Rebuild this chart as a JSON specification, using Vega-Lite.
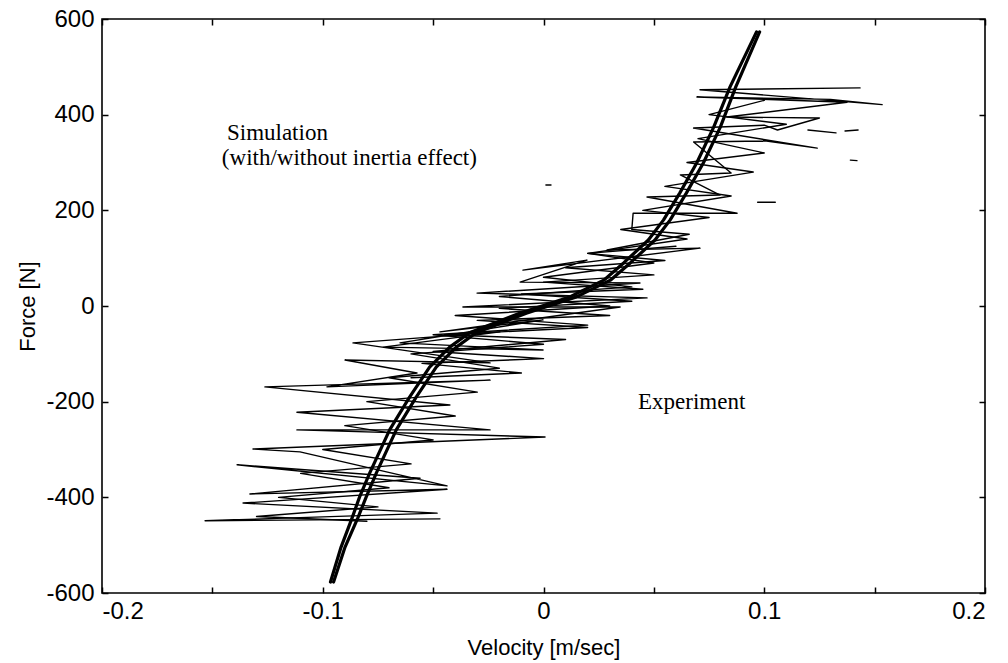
{
  "$schema": "https://vega.github.io/schema/vega-lite/v6.json",
  "width": 883,
  "height": 574,
  "autosize": "none",
  "padding": {"left": 102, "top": 19, "right": 23, "bottom": 70},
  "background": "white",
  "config": {
    "view": {"stroke": "black", "strokeWidth": 1.6},
    "axis": {"grid": false, "domain": false, "tickColor": "black", "tickWidth": 1.5, "tickSize": 6, "offset": -6,
             "labelFont": "Liberation Sans", "labelFontSize": 24, "labelColor": "black",
             "titleFont": "Liberation Sans", "titleFontSize": 22, "titleFontWeight": "normal", "titleColor": "black"}
  },
  "datasets": {
    "exp": [
      {"seg": "a", "i": 1, "v": -0.0469, "F": -445},
      {"seg": "a", "i": 2, "v": -0.1533, "F": -449},
      {"seg": "a", "i": 3, "v": -0.0482, "F": -433},
      {"seg": "a", "i": 4, "v": -0.1361, "F": -412},
      {"seg": "a", "i": 5, "v": -0.0437, "F": -383},
      {"seg": "a", "i": 6, "v": -0.1330, "F": -393},
      {"seg": "a", "i": 7, "v": -0.0559, "F": -360},
      {"seg": "a", "i": 8, "v": -0.1388, "F": -332},
      {"seg": "a", "i": 9, "v": -0.0437, "F": -376},
      {"seg": "a", "i": 10, "v": -0.1103, "F": -305},
      {"seg": "a", "i": 11, "v": -0.1316, "F": -299},
      {"seg": "a", "i": 12, "v": 0.0007, "F": -274},
      {"seg": "a", "i": 13, "v": -0.1117, "F": -259},
      {"seg": "a", "i": 14, "v": -0.0242, "F": -259},
      {"seg": "a", "i": 15, "v": -0.1117, "F": -222},
      {"seg": "a", "i": 16, "v": -0.0424, "F": -207},
      {"seg": "a", "i": 17, "v": -0.1262, "F": -169},
      {"seg": "a", "i": 18, "v": -0.0242, "F": -155},
      {"seg": "a", "i": 19, "v": -0.0981, "F": -169},
      {"seg": "a", "i": 20, "v": -0.0573, "F": -140},
      {"seg": "a", "i": 21, "v": -0.0899, "F": -113},
      {"seg": "a", "i": 22, "v": -0.0242, "F": -119},
      {"seg": "a", "i": 23, "v": -0.0863, "F": -77},
      {"seg": "a", "i": 24, "v": -0.0197, "F": -54},
      {"seg": "a", "i": 25, "v": -0.0727, "F": -86},
      {"seg": "a", "i": 26, "v": -0.0002, "F": -92},
      {"seg": "a", "i": 27, "v": -0.0650, "F": -77},
      {"seg": "a", "i": 28, "v": -0.0002, "F": -29},
      {"seg": "a", "i": 29, "v": -0.0469, "F": -54},
      {"seg": "a", "i": 30, "v": 0.0347, "F": -2},
      {"seg": "a", "i": 31, "v": -0.0365, "F": -2},
      {"seg": "a", "i": 32, "v": 0.0469, "F": 17},
      {"seg": "a", "i": 33, "v": -0.0301, "F": 27},
      {"seg": "a", "i": 34, "v": 0.0437, "F": 48},
      {"seg": "a", "i": 35, "v": -0.0106, "F": 50},
      {"seg": "a", "i": 36, "v": 0.0197, "F": 96},
      {"seg": "a", "i": 37, "v": -0.0093, "F": 75},
      {"seg": "a", "i": 38, "v": 0.0709, "F": 121},
      {"seg": "a", "i": 39, "v": 0.0288, "F": 117},
      {"seg": "a", "i": 40, "v": 0.0660, "F": 150},
      {"seg": "a", "i": 41, "v": 0.0400, "F": 160},
      {"seg": "a", "i": 42, "v": 0.0406, "F": 194},
      {"seg": "a", "i": 43, "v": 0.0877, "F": 194},
      {"seg": "a", "i": 44, "v": 0.0469, "F": 228},
      {"seg": "a", "i": 45, "v": 0.0800, "F": 232},
      {"seg": "a", "i": 46, "v": 0.0620, "F": 274},
      {"seg": "a", "i": 47, "v": 0.0850, "F": 278},
      {"seg": "a", "i": 48, "v": 0.0680, "F": 343},
      {"seg": "a", "i": 49, "v": 0.1010, "F": 345},
      {"seg": "a", "i": 50, "v": 0.1240, "F": 330},
      {"seg": "a", "i": 51, "v": 0.0680, "F": 372},
      {"seg": "a", "i": 52, "v": 0.1000, "F": 378},
      {"seg": "a", "i": 53, "v": 0.1060, "F": 368},
      {"seg": "a", "i": 54, "v": 0.1250, "F": 393},
      {"seg": "a", "i": 55, "v": 0.0830, "F": 395},
      {"seg": "a", "i": 56, "v": 0.1375, "F": 426},
      {"seg": "a", "i": 57, "v": 0.0695, "F": 437},
      {"seg": "a", "i": 58, "v": 0.1300, "F": 432},
      {"seg": "a", "i": 59, "v": 0.1534, "F": 421},
      {"seg": "a", "i": 60, "v": 0.0709, "F": 452},
      {"seg": "a", "i": 61, "v": 0.1434, "F": 456},
      {"seg": "b", "i": 1, "v": 0.100, "F": 430},
      {"seg": "b", "i": 2, "v": 0.075, "F": 400},
      {"seg": "b", "i": 3, "v": 0.110, "F": 380},
      {"seg": "b", "i": 4, "v": 0.070, "F": 350},
      {"seg": "b", "i": 5, "v": 0.100, "F": 320},
      {"seg": "b", "i": 6, "v": 0.065, "F": 300},
      {"seg": "b", "i": 7, "v": 0.095, "F": 280},
      {"seg": "b", "i": 8, "v": 0.055, "F": 250},
      {"seg": "b", "i": 9, "v": 0.085, "F": 230},
      {"seg": "b", "i": 10, "v": 0.045, "F": 200},
      {"seg": "b", "i": 11, "v": 0.075, "F": 185},
      {"seg": "b", "i": 12, "v": 0.035, "F": 160},
      {"seg": "b", "i": 13, "v": 0.065, "F": 140},
      {"seg": "b", "i": 14, "v": 0.020, "F": 110},
      {"seg": "b", "i": 15, "v": 0.050, "F": 90},
      {"seg": "b", "i": 16, "v": 0.000, "F": 60},
      {"seg": "b", "i": 17, "v": 0.040, "F": 40},
      {"seg": "b", "i": 18, "v": -0.020, "F": 20},
      {"seg": "b", "i": 19, "v": 0.030, "F": 0},
      {"seg": "b", "i": 20, "v": -0.040, "F": -20},
      {"seg": "b", "i": 21, "v": 0.020, "F": -40},
      {"seg": "b", "i": 22, "v": -0.050, "F": -60},
      {"seg": "b", "i": 23, "v": 0.000, "F": -80},
      {"seg": "b", "i": 24, "v": -0.060, "F": -100},
      {"seg": "b", "i": 25, "v": -0.020, "F": -130},
      {"seg": "b", "i": 26, "v": -0.070, "F": -150},
      {"seg": "b", "i": 27, "v": -0.030, "F": -180},
      {"seg": "b", "i": 28, "v": -0.080, "F": -200},
      {"seg": "b", "i": 29, "v": -0.040, "F": -230},
      {"seg": "b", "i": 30, "v": -0.090, "F": -250},
      {"seg": "b", "i": 31, "v": -0.050, "F": -280},
      {"seg": "b", "i": 32, "v": -0.100, "F": -300},
      {"seg": "b", "i": 33, "v": -0.060, "F": -330},
      {"seg": "b", "i": 34, "v": -0.110, "F": -350},
      {"seg": "b", "i": 35, "v": -0.070, "F": -380},
      {"seg": "b", "i": 36, "v": -0.120, "F": -400},
      {"seg": "b", "i": 37, "v": -0.075, "F": -420},
      {"seg": "b", "i": 38, "v": -0.130, "F": -440},
      {"seg": "b", "i": 39, "v": -0.080, "F": -450},
      {"seg": "h", "i": 1, "v": -0.060, "F": -150},
      {"seg": "h", "i": 2, "v": -0.010, "F": -140},
      {"seg": "h", "i": 3, "v": -0.055, "F": -120},
      {"seg": "h", "i": 4, "v": 0.000, "F": -110},
      {"seg": "h", "i": 5, "v": -0.050, "F": -95},
      {"seg": "h", "i": 6, "v": 0.010, "F": -70},
      {"seg": "h", "i": 7, "v": -0.045, "F": -60},
      {"seg": "h", "i": 8, "v": 0.020, "F": -45},
      {"seg": "h", "i": 9, "v": -0.030, "F": -30},
      {"seg": "h", "i": 10, "v": 0.030, "F": -20},
      {"seg": "h", "i": 11, "v": -0.020, "F": -5},
      {"seg": "h", "i": 12, "v": 0.040, "F": 10},
      {"seg": "h", "i": 13, "v": -0.010, "F": 25},
      {"seg": "h", "i": 14, "v": 0.045, "F": 35},
      {"seg": "h", "i": 15, "v": 0.000, "F": 50},
      {"seg": "h", "i": 16, "v": 0.050, "F": 65},
      {"seg": "h", "i": 17, "v": 0.010, "F": 80},
      {"seg": "h", "i": 18, "v": 0.055, "F": 95},
      {"seg": "h", "i": 19, "v": 0.020, "F": 110},
      {"seg": "h", "i": 20, "v": 0.060, "F": 125},
      {"seg": "c", "i": 1, "v": 0.1198, "F": 368},
      {"seg": "c", "i": 2, "v": 0.1325, "F": 362},
      {"seg": "d", "i": 1, "v": 0.1366, "F": 366},
      {"seg": "d", "i": 2, "v": 0.1425, "F": 368},
      {"seg": "e", "i": 1, "v": 0.0011, "F": 253},
      {"seg": "e", "i": 2, "v": 0.0034, "F": 253},
      {"seg": "f", "i": 1, "v": 0.1390, "F": 305},
      {"seg": "f", "i": 2, "v": 0.1420, "F": 304},
      {"seg": "g", "i": 1, "v": 0.0970, "F": 217},
      {"seg": "g", "i": 2, "v": 0.1050, "F": 217}
    ],
    "sim": [
      {"series": "with", "v": -0.0965, "F": -577},
      {"series": "with", "v": -0.0917, "F": -504},
      {"series": "with", "v": -0.0867, "F": -443},
      {"series": "with", "v": -0.0833, "F": -399},
      {"series": "with", "v": -0.0787, "F": -349},
      {"series": "with", "v": -0.0697, "F": -259},
      {"series": "with", "v": -0.0606, "F": -190},
      {"series": "with", "v": -0.0516, "F": -128},
      {"series": "with", "v": -0.0425, "F": -86},
      {"series": "with", "v": -0.0335, "F": -56},
      {"series": "with", "v": -0.0108, "F": -15},
      {"series": "with", "v": 0.0119, "F": 19},
      {"series": "with", "v": 0.0273, "F": 54},
      {"series": "with", "v": 0.0363, "F": 90},
      {"series": "with", "v": 0.0475, "F": 138},
      {"series": "with", "v": 0.0544, "F": 180},
      {"series": "with", "v": 0.0617, "F": 236},
      {"series": "with", "v": 0.0694, "F": 299},
      {"series": "with", "v": 0.0771, "F": 374},
      {"series": "with", "v": 0.0845, "F": 458},
      {"series": "with", "v": 0.0965, "F": 573},
      {"series": "without", "v": -0.0951, "F": -577},
      {"series": "without", "v": -0.0899, "F": -504},
      {"series": "without", "v": -0.0841, "F": -443},
      {"series": "without", "v": -0.0803, "F": -399},
      {"series": "without", "v": -0.0757, "F": -349},
      {"series": "without", "v": -0.0667, "F": -259},
      {"series": "without", "v": -0.0576, "F": -190},
      {"series": "without", "v": -0.0486, "F": -128},
      {"series": "without", "v": -0.0395, "F": -86},
      {"series": "without", "v": -0.0305, "F": -56},
      {"series": "without", "v": -0.0078, "F": -15},
      {"series": "without", "v": 0.0149, "F": 19},
      {"series": "without", "v": 0.0303, "F": 54},
      {"series": "without", "v": 0.0393, "F": 90},
      {"series": "without", "v": 0.0505, "F": 138},
      {"series": "without", "v": 0.0574, "F": 180},
      {"series": "without", "v": 0.0647, "F": 236},
      {"series": "without", "v": 0.0724, "F": 299},
      {"series": "without", "v": 0.0801, "F": 374},
      {"series": "without", "v": 0.0871, "F": 458},
      {"series": "without", "v": 0.0979, "F": 573}
    ],
    "notes": [
      {"v": -0.1434, "F": 362, "label": "Simulation"},
      {"v": -0.1457, "F": 309, "label": "(with/without inertia effect)"},
      {"v": 0.0428, "F": -201, "label": "Experiment"}
    ]
  },
  "resolve": {"axis": {"x": "independent", "y": "independent"}},
  "layer": [
    {
      "data": {"name": "exp"},
      "mark": {"type": "line", "color": "black", "strokeWidth": 1.4, "strokeCap": "round", "strokeJoin": "round"},
      "encoding": {
        "x": {"field": "v", "type": "quantitative", "scale": {"domain": [-0.2, 0.2], "nice": false, "zero": false},
              "axis": {"orient": "bottom", "title": "Velocity [m/sec]", "values": [-0.2, -0.15, -0.1, -0.05, 0, 0.05, 0.1, 0.15, 0.2],
                       "labelExpr": "abs(round(datum.value*100)) % 10 == 0 ? '' + datum.value : ''", "labelPadding": 6, "titlePadding": 14}},
        "y": {"field": "F", "type": "quantitative", "scale": {"domain": [-600, 600], "nice": false, "zero": false},
              "axis": {"orient": "left", "title": "Force [N]", "values": [-600, -400, -200, 0, 200, 400, 600],
                       "labelExpr": "'' + datum.value", "labelPadding": 8, "titlePadding": 6}},
        "detail": {"field": "seg"},
        "order": {"field": "i", "type": "quantitative"}
      }
    },
    {
      "data": {"name": "sim"},
      "mark": {"type": "line", "color": "black", "strokeWidth": 3.2, "strokeCap": "round", "strokeJoin": "round"},
      "encoding": {
        "x": {"field": "v", "type": "quantitative",
              "axis": {"orient": "top", "title": null, "labels": false, "values": [-0.2, -0.15, -0.1, -0.05, 0, 0.05, 0.1, 0.15, 0.2]}},
        "y": {"field": "F", "type": "quantitative",
              "axis": {"orient": "right", "title": null, "labels": false, "values": [-600, -400, -200, 0, 200, 400, 600]}},
        "detail": {"field": "series"},
        "order": {"field": "F", "type": "quantitative"}
      }
    },
    {
      "data": {"name": "notes"},
      "mark": {"type": "text", "font": "Liberation Serif", "fontSize": 23, "align": "left", "baseline": "middle", "color": "black"},
      "encoding": {
        "x": {"field": "v", "type": "quantitative", "axis": null},
        "y": {"field": "F", "type": "quantitative", "axis": null},
        "text": {"field": "label"}
      }
    }
  ]
}
